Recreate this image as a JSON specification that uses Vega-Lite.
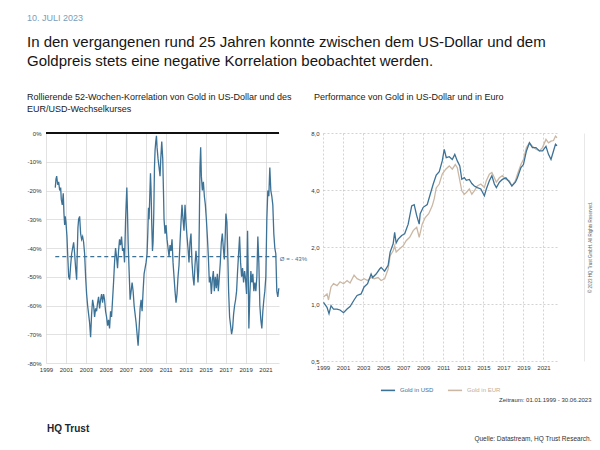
{
"$schema":"https://vega.github.io/schema/vega-lite/v6.json",
"background":"white",
"padding":{"left":26,"top":14,"right":2,"bottom":4},
"config":{"font":"Liberation Sans","view":{"stroke":null},"axis":{"labelFontSize":6,"labelColor":"#333","ticks":false,"domain":false,"labelFont":"Liberation Sans","labelOverlap":false},"legend":{"layout":{"bottom":{"anchor":"middle"}}}},
"datasets":{
"corr":[{"t":1999.93,"v":-19},{"t":2000.0,"v":-16},{"t":2000.07,"v":-15},{"t":2000.17,"v":-18},{"t":2000.27,"v":-17},{"t":2000.37,"v":-20},{"t":2000.47,"v":-19},{"t":2000.53,"v":-23},{"t":2000.63,"v":-25},{"t":2000.73,"v":-21},{"t":2000.8,"v":-28},{"t":2000.87,"v":-32},{"t":2000.93,"v":-29},{"t":2001.0,"v":-31},{"t":2001.1,"v":-36},{"t":2001.17,"v":-42},{"t":2001.27,"v":-50},{"t":2001.37,"v":-51},{"t":2001.47,"v":-46},{"t":2001.57,"v":-42},{"t":2001.67,"v":-40},{"t":2001.77,"v":-38},{"t":2001.87,"v":-42},{"t":2001.97,"v":-47},{"t":2002.07,"v":-51},{"t":2002.13,"v":-42},{"t":2002.2,"v":-33},{"t":2002.27,"v":-30},{"t":2002.37,"v":-29},{"t":2002.47,"v":-35},{"t":2002.57,"v":-37},{"t":2002.67,"v":-36},{"t":2002.77,"v":-38},{"t":2002.87,"v":-42},{"t":2002.97,"v":-50},{"t":2003.07,"v":-56},{"t":2003.17,"v":-60},{"t":2003.27,"v":-63},{"t":2003.37,"v":-66},{"t":2003.47,"v":-71},{"t":2003.57,"v":-63},{"t":2003.67,"v":-58},{"t":2003.77,"v":-60},{"t":2003.87,"v":-64},{"t":2003.97,"v":-61},{"t":2004.07,"v":-62},{"t":2004.17,"v":-59},{"t":2004.27,"v":-57},{"t":2004.37,"v":-61},{"t":2004.47,"v":-58},{"t":2004.57,"v":-56},{"t":2004.67,"v":-59},{"t":2004.77,"v":-56},{"t":2004.87,"v":-58},{"t":2004.97,"v":-62},{"t":2005.07,"v":-64},{"t":2005.17,"v":-67},{"t":2005.27,"v":-65},{"t":2005.37,"v":-68},{"t":2005.47,"v":-62},{"t":2005.57,"v":-64},{"t":2005.67,"v":-58},{"t":2005.77,"v":-52},{"t":2005.87,"v":-45},{"t":2005.97,"v":-40},{"t":2006.07,"v":-43},{"t":2006.17,"v":-47},{"t":2006.27,"v":-41},{"t":2006.37,"v":-37},{"t":2006.47,"v":-39},{"t":2006.57,"v":-36},{"t":2006.67,"v":-41},{"t":2006.77,"v":-40},{"t":2006.87,"v":-45},{"t":2006.97,"v":-31},{"t":2007.03,"v":-25},{"t":2007.1,"v":-19},{"t":2007.17,"v":-28},{"t":2007.23,"v":-38},{"t":2007.33,"v":-48},{"t":2007.43,"v":-58},{"t":2007.53,"v":-55},{"t":2007.63,"v":-52},{"t":2007.73,"v":-55},{"t":2007.83,"v":-60},{"t":2007.93,"v":-63},{"t":2008.03,"v":-66},{"t":2008.13,"v":-70},{"t":2008.23,"v":-74},{"t":2008.33,"v":-68},{"t":2008.43,"v":-61},{"t":2008.53,"v":-58},{"t":2008.63,"v":-62},{"t":2008.73,"v":-55},{"t":2008.83,"v":-49},{"t":2008.93,"v":-47},{"t":2009.03,"v":-45},{"t":2009.13,"v":-42},{"t":2009.2,"v":-35},{"t":2009.27,"v":-26},{"t":2009.33,"v":-30},{"t":2009.4,"v":-22},{"t":2009.47,"v":-14},{"t":2009.53,"v":-20},{"t":2009.6,"v":-32},{"t":2009.67,"v":-41},{"t":2009.73,"v":-38},{"t":2009.8,"v":-28},{"t":2009.87,"v":-12},{"t":2009.93,"v":-6},{"t":2010.0,"v":-3},{"t":2010.07,"v":-1},{"t":2010.13,"v":-5},{"t":2010.23,"v":-9},{"t":2010.33,"v":-12},{"t":2010.43,"v":-15},{"t":2010.5,"v":-9},{"t":2010.6,"v":-3},{"t":2010.7,"v":-9},{"t":2010.77,"v":-20},{"t":2010.83,"v":-30},{"t":2010.93,"v":-35},{"t":2011.03,"v":-32},{"t":2011.13,"v":-37},{"t":2011.23,"v":-40},{"t":2011.33,"v":-43},{"t":2011.43,"v":-39},{"t":2011.53,"v":-41},{"t":2011.63,"v":-37},{"t":2011.73,"v":-45},{"t":2011.83,"v":-50},{"t":2011.93,"v":-55},{"t":2012.03,"v":-59},{"t":2012.13,"v":-56},{"t":2012.23,"v":-50},{"t":2012.33,"v":-46},{"t":2012.43,"v":-38},{"t":2012.53,"v":-31},{"t":2012.63,"v":-25},{"t":2012.73,"v":-30},{"t":2012.83,"v":-34},{"t":2012.93,"v":-25},{"t":2013.03,"v":-31},{"t":2013.13,"v":-36},{"t":2013.23,"v":-40},{"t":2013.33,"v":-45},{"t":2013.43,"v":-38},{"t":2013.53,"v":-35},{"t":2013.63,"v":-45},{"t":2013.73,"v":-50},{"t":2013.83,"v":-53},{"t":2013.93,"v":-46},{"t":2014.03,"v":-41},{"t":2014.13,"v":-45},{"t":2014.23,"v":-52},{"t":2014.3,"v":-48},{"t":2014.37,"v":-30},{"t":2014.43,"v":-12},{"t":2014.5,"v":-5},{"t":2014.57,"v":-15},{"t":2014.67,"v":-20},{"t":2014.77,"v":-17},{"t":2014.87,"v":-22},{"t":2014.97,"v":-25},{"t":2015.07,"v":-30},{"t":2015.17,"v":-36},{"t":2015.27,"v":-43},{"t":2015.37,"v":-52},{"t":2015.47,"v":-50},{"t":2015.57,"v":-56},{"t":2015.67,"v":-51},{"t":2015.77,"v":-48},{"t":2015.87,"v":-55},{"t":2015.97,"v":-50},{"t":2016.07,"v":-54},{"t":2016.17,"v":-49},{"t":2016.27,"v":-55},{"t":2016.37,"v":-50},{"t":2016.47,"v":-45},{"t":2016.57,"v":-38},{"t":2016.67,"v":-35},{"t":2016.77,"v":-40},{"t":2016.87,"v":-44},{"t":2016.97,"v":-35},{"t":2017.03,"v":-28},{"t":2017.13,"v":-31},{"t":2017.2,"v":-40},{"t":2017.3,"v":-55},{"t":2017.4,"v":-64},{"t":2017.5,"v":-67},{"t":2017.6,"v":-70},{"t":2017.7,"v":-68},{"t":2017.8,"v":-63},{"t":2017.9,"v":-60},{"t":2018.0,"v":-58},{"t":2018.1,"v":-55},{"t":2018.2,"v":-48},{"t":2018.3,"v":-42},{"t":2018.4,"v":-36},{"t":2018.5,"v":-45},{"t":2018.6,"v":-50},{"t":2018.7,"v":-47},{"t":2018.8,"v":-52},{"t":2018.9,"v":-48},{"t":2019.0,"v":-51},{"t":2019.1,"v":-56},{"t":2019.2,"v":-34},{"t":2019.27,"v":-50},{"t":2019.33,"v":-68},{"t":2019.43,"v":-56},{"t":2019.53,"v":-48},{"t":2019.63,"v":-52},{"t":2019.73,"v":-49},{"t":2019.83,"v":-55},{"t":2019.93,"v":-52},{"t":2020.03,"v":-55},{"t":2020.13,"v":-50},{"t":2020.23,"v":-36},{"t":2020.33,"v":-45},{"t":2020.43,"v":-60},{"t":2020.53,"v":-65},{"t":2020.63,"v":-68},{"t":2020.73,"v":-62},{"t":2020.83,"v":-58},{"t":2020.93,"v":-55},{"t":2021.03,"v":-50},{"t":2021.13,"v":-30},{"t":2021.23,"v":-20},{"t":2021.33,"v":-22},{"t":2021.43,"v":-12},{"t":2021.53,"v":-20},{"t":2021.63,"v":-22},{"t":2021.73,"v":-25},{"t":2021.83,"v":-35},{"t":2021.93,"v":-40},{"t":2022.03,"v":-42},{"t":2022.13,"v":-55},{"t":2022.23,"v":-57},{"t":2022.33,"v":-54}],
"gold":[
{"t":1999.05,"s":"Gold in USD","v":1.02},{"t":1999.4,"s":"Gold in USD","v":0.96},{"t":1999.6,"s":"Gold in USD","v":0.89},{"t":1999.8,"s":"Gold in USD","v":0.98},{"t":2000.05,"s":"Gold in USD","v":0.94},{"t":2000.4,"s":"Gold in USD","v":0.94},{"t":2000.7,"s":"Gold in USD","v":0.93},{"t":2001.05,"s":"Gold in USD","v":0.9},{"t":2001.4,"s":"Gold in USD","v":0.94},{"t":2001.7,"s":"Gold in USD","v":0.97},{"t":2002.1,"s":"Gold in USD","v":1.05},{"t":2002.4,"s":"Gold in USD","v":1.11},{"t":2002.8,"s":"Gold in USD","v":1.13},{"t":2003.1,"s":"Gold in USD","v":1.23},{"t":2003.45,"s":"Gold in USD","v":1.28},{"t":2003.8,"s":"Gold in USD","v":1.44},{"t":2003.95,"s":"Gold in USD","v":1.38},{"t":2004.3,"s":"Gold in USD","v":1.44},{"t":2004.65,"s":"Gold in USD","v":1.53},{"t":2004.8,"s":"Gold in USD","v":1.56},{"t":2005.15,"s":"Gold in USD","v":1.49},{"t":2005.5,"s":"Gold in USD","v":1.6},{"t":2005.7,"s":"Gold in USD","v":1.88},{"t":2006.0,"s":"Gold in USD","v":2.08},{"t":2006.15,"s":"Gold in USD","v":2.39},{"t":2006.3,"s":"Gold in USD","v":2.1},{"t":2006.5,"s":"Gold in USD","v":2.2},{"t":2006.85,"s":"Gold in USD","v":2.3},{"t":2007.15,"s":"Gold in USD","v":2.35},{"t":2007.5,"s":"Gold in USD","v":2.64},{"t":2007.85,"s":"Gold in USD","v":3.3},{"t":2008.1,"s":"Gold in USD","v":3.35},{"t":2008.35,"s":"Gold in USD","v":2.93},{"t":2008.6,"s":"Gold in USD","v":2.64},{"t":2008.7,"s":"Gold in USD","v":3.0},{"t":2009.0,"s":"Gold in USD","v":3.24},{"t":2009.4,"s":"Gold in USD","v":3.35},{"t":2009.7,"s":"Gold in USD","v":3.8},{"t":2010.0,"s":"Gold in USD","v":4.3},{"t":2010.3,"s":"Gold in USD","v":4.8},{"t":2010.6,"s":"Gold in USD","v":5.0},{"t":2010.9,"s":"Gold in USD","v":5.7},{"t":2011.1,"s":"Gold in USD","v":6.56},{"t":2011.3,"s":"Gold in USD","v":5.93},{"t":2011.6,"s":"Gold in USD","v":6.0},{"t":2011.9,"s":"Gold in USD","v":5.8},{"t":2012.15,"s":"Gold in USD","v":6.17},{"t":2012.4,"s":"Gold in USD","v":5.7},{"t":2012.65,"s":"Gold in USD","v":5.36},{"t":2012.85,"s":"Gold in USD","v":4.56},{"t":2013.1,"s":"Gold in USD","v":4.65},{"t":2013.3,"s":"Gold in USD","v":4.5},{"t":2013.6,"s":"Gold in USD","v":4.55},{"t":2013.85,"s":"Gold in USD","v":4.33},{"t":2014.1,"s":"Gold in USD","v":4.2},{"t":2014.4,"s":"Gold in USD","v":4.12},{"t":2014.75,"s":"Gold in USD","v":4.05},{"t":2015.1,"s":"Gold in USD","v":3.73},{"t":2015.3,"s":"Gold in USD","v":4.05},{"t":2015.6,"s":"Gold in USD","v":4.48},{"t":2015.85,"s":"Gold in USD","v":4.76},{"t":2016.1,"s":"Gold in USD","v":4.3},{"t":2016.3,"s":"Gold in USD","v":4.12},{"t":2016.6,"s":"Gold in USD","v":4.4},{"t":2016.9,"s":"Gold in USD","v":4.55},{"t":2017.25,"s":"Gold in USD","v":4.64},{"t":2017.6,"s":"Gold in USD","v":4.4},{"t":2017.85,"s":"Gold in USD","v":4.2},{"t":2018.2,"s":"Gold in USD","v":4.4},{"t":2018.4,"s":"Gold in USD","v":4.64},{"t":2018.75,"s":"Gold in USD","v":5.25},{"t":2019.0,"s":"Gold in USD","v":5.45},{"t":2019.3,"s":"Gold in USD","v":6.43},{"t":2019.6,"s":"Gold in USD","v":7.1},{"t":2019.9,"s":"Gold in USD","v":6.7},{"t":2020.25,"s":"Gold in USD","v":6.7},{"t":2020.6,"s":"Gold in USD","v":6.43},{"t":2020.9,"s":"Gold in USD","v":6.43},{"t":2021.25,"s":"Gold in USD","v":6.8},{"t":2021.5,"s":"Gold in USD","v":6.17},{"t":2021.75,"s":"Gold in USD","v":5.8},{"t":2022.0,"s":"Gold in USD","v":6.43},{"t":2022.2,"s":"Gold in USD","v":6.98},{"t":2022.35,"s":"Gold in USD","v":6.85},
{"t":1999.05,"s":"Gold in EUR","v":1.09},{"t":1999.4,"s":"Gold in EUR","v":1.13},{"t":1999.55,"s":"Gold in EUR","v":1.05},{"t":1999.8,"s":"Gold in EUR","v":1.23},{"t":2000.05,"s":"Gold in EUR","v":1.28},{"t":2000.4,"s":"Gold in EUR","v":1.25},{"t":2000.7,"s":"Gold in EUR","v":1.31},{"t":2001.05,"s":"Gold in EUR","v":1.28},{"t":2001.4,"s":"Gold in EUR","v":1.33},{"t":2001.7,"s":"Gold in EUR","v":1.29},{"t":2002.1,"s":"Gold in EUR","v":1.42},{"t":2002.4,"s":"Gold in EUR","v":1.36},{"t":2002.8,"s":"Gold in EUR","v":1.33},{"t":2003.1,"s":"Gold in EUR","v":1.36},{"t":2003.45,"s":"Gold in EUR","v":1.33},{"t":2003.8,"s":"Gold in EUR","v":1.38},{"t":2004.1,"s":"Gold in EUR","v":1.36},{"t":2004.5,"s":"Gold in EUR","v":1.38},{"t":2004.8,"s":"Gold in EUR","v":1.33},{"t":2005.15,"s":"Gold in EUR","v":1.36},{"t":2005.5,"s":"Gold in EUR","v":1.53},{"t":2005.7,"s":"Gold in EUR","v":1.8},{"t":2006.0,"s":"Gold in EUR","v":1.91},{"t":2006.15,"s":"Gold in EUR","v":2.03},{"t":2006.3,"s":"Gold in EUR","v":1.88},{"t":2006.65,"s":"Gold in EUR","v":1.96},{"t":2007.0,"s":"Gold in EUR","v":2.03},{"t":2007.3,"s":"Gold in EUR","v":2.16},{"t":2007.65,"s":"Gold in EUR","v":2.25},{"t":2008.0,"s":"Gold in EUR","v":2.44},{"t":2008.35,"s":"Gold in EUR","v":2.54},{"t":2008.6,"s":"Gold in EUR","v":2.25},{"t":2008.9,"s":"Gold in EUR","v":2.64},{"t":2009.2,"s":"Gold in EUR","v":2.86},{"t":2009.55,"s":"Gold in EUR","v":3.0},{"t":2009.9,"s":"Gold in EUR","v":3.3},{"t":2010.1,"s":"Gold in EUR","v":3.6},{"t":2010.3,"s":"Gold in EUR","v":4.1},{"t":2010.6,"s":"Gold in EUR","v":4.3},{"t":2010.9,"s":"Gold in EUR","v":4.85},{"t":2011.25,"s":"Gold in EUR","v":5.15},{"t":2011.6,"s":"Gold in EUR","v":5.36},{"t":2011.9,"s":"Gold in EUR","v":5.15},{"t":2012.2,"s":"Gold in EUR","v":5.45},{"t":2012.4,"s":"Gold in EUR","v":5.25},{"t":2012.65,"s":"Gold in EUR","v":4.5},{"t":2012.85,"s":"Gold in EUR","v":3.96},{"t":2013.1,"s":"Gold in EUR","v":3.8},{"t":2013.3,"s":"Gold in EUR","v":3.88},{"t":2013.6,"s":"Gold in EUR","v":4.05},{"t":2013.85,"s":"Gold in EUR","v":3.8},{"t":2014.1,"s":"Gold in EUR","v":3.96},{"t":2014.4,"s":"Gold in EUR","v":4.2},{"t":2014.75,"s":"Gold in EUR","v":4.3},{"t":2015.1,"s":"Gold in EUR","v":4.12},{"t":2015.3,"s":"Gold in EUR","v":4.48},{"t":2015.6,"s":"Gold in EUR","v":4.85},{"t":2015.85,"s":"Gold in EUR","v":4.95},{"t":2016.1,"s":"Gold in EUR","v":4.64},{"t":2016.3,"s":"Gold in EUR","v":4.4},{"t":2016.6,"s":"Gold in EUR","v":4.64},{"t":2016.9,"s":"Gold in EUR","v":4.76},{"t":2017.25,"s":"Gold in EUR","v":4.55},{"t":2017.6,"s":"Gold in EUR","v":4.48},{"t":2017.85,"s":"Gold in EUR","v":4.2},{"t":2018.2,"s":"Gold in EUR","v":4.48},{"t":2018.4,"s":"Gold in EUR","v":4.85},{"t":2018.75,"s":"Gold in EUR","v":5.45},{"t":2019.0,"s":"Gold in EUR","v":5.8},{"t":2019.3,"s":"Gold in EUR","v":6.7},{"t":2019.6,"s":"Gold in EUR","v":7.1},{"t":2019.9,"s":"Gold in EUR","v":6.8},{"t":2020.25,"s":"Gold in EUR","v":6.56},{"t":2020.6,"s":"Gold in EUR","v":6.43},{"t":2020.9,"s":"Gold in EUR","v":6.7},{"t":2021.25,"s":"Gold in EUR","v":7.4},{"t":2021.5,"s":"Gold in EUR","v":7.1},{"t":2021.75,"s":"Gold in EUR","v":7.25},{"t":2022.0,"s":"Gold in EUR","v":7.3},{"t":2022.2,"s":"Gold in EUR","v":7.7},{"t":2022.35,"s":"Gold in EUR","v":7.55}
]},
"title":{"text":"Quelle: Datastream, HQ Trust Research.","orient":"bottom","anchor":"end","fontSize":6.5,"fontWeight":"normal","color":"#333","offset":2},
"resolve":{"scale":{"color":"independent"}},
"vconcat":[{
 "title":{"text":"HQ Trust","orient":"bottom","anchor":"start","fontSize":10,"fontWeight":"bold","color":"#1b2630","dx":20,"offset":21},
 "resolve":{"scale":{"color":"independent"}},
 "vconcat":[{
  "title":{"text":"10. JULI 2023","subtitle":["In den vergangenen rund 25 Jahren konnte zwischen dem US-Dollar und dem","Goldpreis stets eine negative Korrelation beobachtet werden."],"anchor":"start","frame":"bounds","fontSize":9,"fontWeight":"normal","color":"#7b9cbb","subtitleFontSize":15,"subtitleColor":"#151515","subtitleLineHeight":19,"subtitlePadding":12,"offset":24},
  "resolve":{"scale":{"color":"independent"}},
  "vconcat":[{
   "title":{"text":"Zeitraum: 01.01.1999 - 30.06.2023","orient":"bottom","anchor":"end","fontSize":6,"fontWeight":"normal","color":"#333","offset":3},
   "spacing":3,
   "resolve":{"scale":{"color":"independent"}},
   "hconcat":[
    {"width":233,"height":230,
     "title":{"text":["Rollierende 52-Wochen-Korrelation von Gold in US-Dollar und des","EUR/USD-Wechselkurses"],"anchor":"start","frame":"bounds","fontSize":9,"fontWeight":"normal","lineHeight":12,"color":"#1a1a1a","offset":16},
     "data":{"name":"corr"},
     "layer":[
      {"mark":{"type":"line","color":"#3d7297","strokeWidth":1.3},
       "encoding":{
        "x":{"field":"t","type":"quantitative","scale":{"domain":[1999,2022.35],"nice":false,"zero":false},"axis":{"title":null,"values":[1999,2001,2003,2005,2007,2009,2011,2013,2015,2017,2019,2021],"tickCount":30,"format":"d","grid":true,"gridColor":"#cfcfcf","gridWidth":0.6,"labelPadding":3,"labelFlush":false,"labelOverlap":false}},
        "y":{"field":"v","type":"quantitative","scale":{"domain":[-80,0],"nice":false},"axis":{"title":null,"values":[-80,-70,-60,-50,-40,-30,-20,-10,0],"tickCount":30,"labelExpr":"datum.value + '%'","grid":true,"gridColor":"#cfcfcf","gridWidth":0.6,"labelPadding":5,"labelOverlap":false}}}},
      {"mark":{"type":"rule","color":"#111","strokeWidth":1.2},"encoding":{"y":{"datum":0,"type":"quantitative"}}},
      {"mark":{"type":"rule","color":"#3d7297","strokeWidth":1.1,"strokeDash":[4,3]},"encoding":{"x":{"aggregate":"min","field":"t","type":"quantitative"},"x2":{"aggregate":"max","field":"t"},"y":{"datum":-43,"type":"quantitative"}}},
      {"mark":{"type":"text","color":"#3d7297","fontSize":6,"align":"left","baseline":"middle","dx":1,"dy":2},"encoding":{"x":{"aggregate":"max","field":"t","type":"quantitative"},"y":{"datum":-43,"type":"quantitative"},"text":{"value":"Ø = - 43%"}}}
     ]},
    {"width":234,"height":228,
     "title":{"text":["Performance von Gold in US-Dollar und in Euro",""],"anchor":"start","frame":"group","dx":-9,"fontSize":9,"fontWeight":"normal","lineHeight":12,"color":"#1a1a1a","offset":16},
     "data":{"name":"gold"},
     "encoding":{
      "x":{"field":"t","type":"quantitative","scale":{"domain":[1999,2022.35],"nice":false,"zero":false},"axis":{"title":null,"values":[1999,2001,2003,2005,2007,2009,2011,2013,2015,2017,2019,2021],"format":"d","grid":true,"gridColor":"#b5b5b5","gridWidth":0.6,"gridDash":[2,2],"labelPadding":3,"labelFlush":false,"labelOverlap":false}},
      "color":{"field":"s","type":"nominal","scale":{"domain":["Gold in USD","Gold in EUR"],"range":["#3d7297","#cbb8a4"]},"legend":{"orient":"bottom","direction":"horizontal","title":null,"symbolType":"stroke","symbolSize":200,"symbolStrokeWidth":1.6,"labelFontSize":6,"labelColor":{"expr":"datum.label == 'Gold in USD' ? '#3d7297' : '#c2ae98'"},"columnPadding":10,"offset":12}}
     },
     "layer":[
      {"transform":[{"filter":"datum.s == 'Gold in EUR'"}],"mark":{"type":"line","strokeWidth":1.3},
       "encoding":{"y":{"field":"v","type":"quantitative","scale":{"type":"log","domain":[0.5,8],"nice":false},"axis":{"orient":"right","title":"© 2023 HQ Trust GmbH. All Rights Reserved.","titleFontSize":4.5,"titleFontWeight":"normal","titleColor":"#666","titleAngle":270,"titlePadding":8,"labels":false,"grid":false,"domain":true,"domainColor":"#e2e2e2","domainWidth":0.8,"offset":27}}}},
      {"transform":[{"filter":"datum.s == 'Gold in USD'"}],"mark":{"type":"line","strokeWidth":1.3},
       "encoding":{"y":{"field":"v","type":"quantitative","scale":{"type":"log","domain":[0.5,8],"nice":false},"axis":{"orient":"left","title":null,"values":[0.5,1,2,4,8],"labelExpr":"replace(format(datum.value, '.1f'), '.', ',')","grid":true,"gridColor":"#b5b5b5","gridWidth":0.6,"gridDash":[2,2],"labelPadding":4,"labelOverlap":false}}}}
     ],
     "resolve":{"axis":{"y":"independent"}}
    }
   ]
  }]
 }]
}]
}
